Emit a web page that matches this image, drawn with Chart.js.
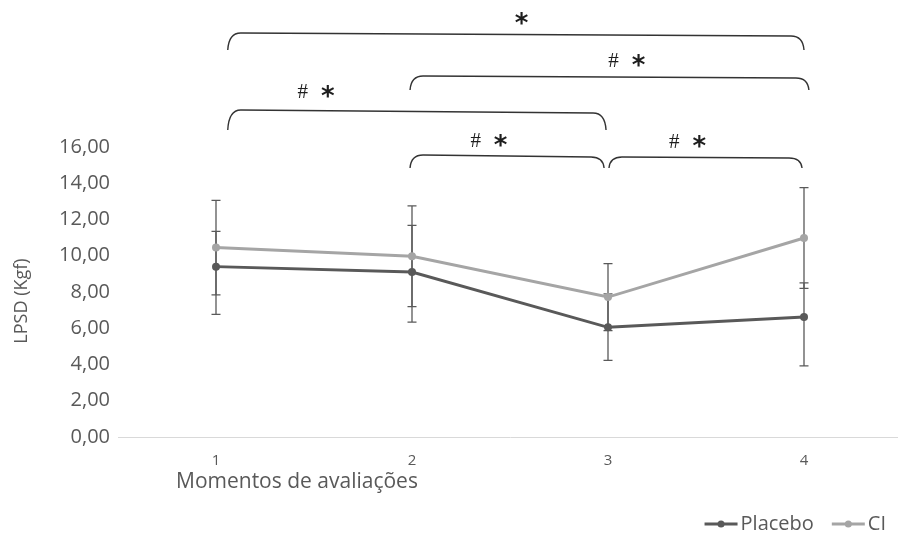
<!DOCTYPE html>
<html>
<head>
<meta charset="utf-8">
<script src="https://cdn.jsdelivr.net/npm/chart.js@4.4.1/dist/chart.umd.min.js"></script>
<style>
  html, body { margin: 0; padding: 0; background: #ffffff; overflow: hidden; }
  #wrap { width: 898px; height: 539px; overflow: hidden; }
  canvas { display: block; }
</style>
</head>
<body>
<div id="wrap"><canvas id="chart" width="906" height="539"></canvas></div>
<script>
// Evaluation moments
const categories = ['1', '2', '3', '4'];

// Mean LPSD (Kgf) per moment
const placebo = [9.40, 9.10, 6.05, 6.62];
const ci = [10.45, 9.97, 7.72, 10.98];

// Error bar extents (above / below the mean)
const placeboErrPlus = [1.95, 2.58, 1.85, 1.88];
const placeboErrMinus = [2.63, 2.76, 1.82, 2.70];
const ciErrPlus = [2.61, 2.78, 1.85, 2.78];
const ciErrMinus = [2.61, 2.78, 1.85, 2.78];

// Y axis range
const yMin = 0;
const yMax = 16;
const yStep = 2;

// Significant comparisons between moments
const comparisons = [
  { from: '1', to: '4', marks: ['*'] },
  { from: '2', to: '4', marks: ['#', '*'] },
  { from: '1', to: '3', marks: ['#', '*'] },
  { from: '2', to: '3', marks: ['#', '*'] },
  { from: '3', to: '4', marks: ['#', '*'] }
];

// Bracket geometry: x nudges in category units, y in canvas pixels
const bracketLayout = [
  { dx1: 0.06, dx2: 0.00, line: [33, 36], tip: 50, text: 18, at: 0.51 },
  { dx1: -0.01, dx2: 0.025, line: [76, 78], tip: 90, text: 60, at: 0.54 },
  { dx1: 0.06, dx2: -0.01, line: [110, 113], tip: 130, text: 91, at: 0.23 },
  { dx1: -0.01, dx2: -0.02, line: [155, 157], tip: 168, text: 140, at: 0.40 },
  { dx1: 0.005, dx2: -0.01, line: [157, 158], tip: 168, text: 141, at: 0.40 }
];

const TEXT = '#595959';
const DARK = '#595959';
const LIGHT = '#a5a5a5';
const FONT = "'Open Sans', 'Noto Sans', sans-serif";

function fmt(v) { return v.toFixed(2).replace('.', ','); }

// Vertical error bars with caps, drawn under the series lines
const errorBars = {
  id: 'errorBars',
  beforeDatasetsDraw(chart) {
    const ctx = chart.ctx;
    const y = chart.scales.y;
    ctx.save();
    ctx.strokeStyle = '#595959';
    ctx.lineWidth = 1.3;
    chart.data.datasets.forEach((ds, i) => {
      const meta = chart.getDatasetMeta(i);
      meta.data.forEach((pt, j) => {
        const v = ds.data[j];
        const top = y.getPixelForValue(v + ds.errPlus[j]);
        const bot = y.getPixelForValue(v - ds.errMinus[j]);
        const x = pt.x;
        ctx.beginPath();
        ctx.moveTo(x, top); ctx.lineTo(x, bot);
        ctx.moveTo(x - 4.5, top); ctx.lineTo(x + 4.5, top);
        ctx.moveTo(x - 4.5, bot); ctx.lineTo(x + 4.5, bot);
        ctx.stroke();
      });
    });
    ctx.restore();
  }
};

function drawGlyph(ctx, ch, font, cx, cy) {
  ctx.font = font;
  const m = ctx.measureText(ch);
  const asc = m.actualBoundingBoxAscent, desc = m.actualBoundingBoxDescent;
  ctx.textAlign = 'center';
  ctx.textBaseline = 'alphabetic';
  ctx.fillText(ch, cx, cy + (asc - desc) / 2);
}

// Comparison brackets with their significance marks
const brackets = {
  id: 'brackets',
  afterDraw(chart) {
    const ctx = chart.ctx;
    const x = chart.scales.x;
    ctx.save();
    ctx.strokeStyle = '#333333';
    ctx.fillStyle = '#1e1e1e';
    ctx.lineWidth = 1.4;
    comparisons.forEach((c, k) => {
      const L = bracketLayout[k];
      const x1 = x.getPixelForValue(categories.indexOf(c.from) + L.dx1);
      const x2 = x.getPixelForValue(categories.indexOf(c.to) + L.dx2);
      const r = 13;
      ctx.beginPath();
      ctx.moveTo(x1, L.tip);
      ctx.quadraticCurveTo(x1 + 1, L.line[0], x1 + r, L.line[0]);
      ctx.lineTo(x2 - r, L.line[1]);
      ctx.quadraticCurveTo(x2 - 1, L.line[1], x2, L.tip);
      ctx.stroke();
      const cx = x1 + (x2 - x1) * L.at;
      if (c.marks.length === 1) {
        drawGlyph(ctx, c.marks[0], "bold 26px 'DejaVu Sans'", cx, L.text);
      } else {
        drawGlyph(ctx, c.marks[0], "21px 'Liberation Serif'", cx - 12, L.text);
        drawGlyph(ctx, c.marks[1], "bold 26px 'DejaVu Sans'", cx + 13, L.text);
      }
    });
    ctx.restore();
  }
};

// Axis titles and the series key
const annotations = {
  id: 'annotations',
  afterDraw(chart) {
    const ctx = chart.ctx;
    const area = chart.chartArea;
    ctx.save();
    ctx.fillStyle = TEXT;
    ctx.textBaseline = 'middle';

    // y axis title
    ctx.save();
    ctx.translate(22, area.top + (area.bottom - area.top) / 2 + 9);
    ctx.rotate(-Math.PI / 2);
    ctx.textAlign = 'center';
    ctx.font = '18px ' + FONT;
    ctx.fillText('LPSD (Kgf)', 0, 0);
    ctx.restore();

    // x axis title
    ctx.textAlign = 'left';
    ctx.font = '21px ' + FONT;
    ctx.fillText('Momentos de avaliações', area.left + 58, 482);

    // series key
    ctx.font = '20px ' + FONT;
    const items = chart.data.datasets.map(ds => ({ label: ds.label, color: ds.borderColor }));
    const sym = 33, gap = 3, spacing = 18;
    let total = 0;
    items.forEach((it, i) => { it.w = ctx.measureText(it.label).width; total += sym + gap + it.w + (i ? spacing : 0); });
    let xx = 886 - total;
    const yy = 524;
    items.forEach((it, i) => {
      if (i) xx += spacing;
      ctx.strokeStyle = it.color;
      ctx.lineWidth = 3;
      ctx.beginPath(); ctx.moveTo(xx, yy); ctx.lineTo(xx + sym, yy); ctx.stroke();
      ctx.fillStyle = it.color;
      ctx.beginPath(); ctx.arc(xx + sym / 2, yy, 3.5, 0, Math.PI * 2); ctx.fill();
      ctx.fillStyle = TEXT;
      ctx.fillText(it.label, xx + sym + gap, yy);
      xx += sym + gap + it.w;
    });
    ctx.restore();
  }
};

new Chart(document.getElementById('chart'), {
  type: 'line',
  data: {
    labels: categories,
    datasets: [
      {
        label: 'Placebo', data: placebo, errPlus: placeboErrPlus, errMinus: placeboErrMinus,
        borderColor: DARK, backgroundColor: DARK, borderWidth: 3,
        pointRadius: 4, pointBackgroundColor: DARK, pointBorderWidth: 0,
        tension: 0, fill: false
      },
      {
        label: 'CI', data: ci, errPlus: ciErrPlus, errMinus: ciErrMinus,
        borderColor: LIGHT, backgroundColor: LIGHT, borderWidth: 3,
        pointRadius: 4, pointBackgroundColor: LIGHT, pointBorderWidth: 0,
        tension: 0, fill: false
      }
    ]
  },
  options: {
    responsive: false,
    animation: false,
    devicePixelRatio: 1,
    layout: { padding: { top: 147, right: 0, bottom: 72, left: 0 } },
    plugins: { legend: { display: false }, tooltip: { enabled: false } },
    scales: {
      x: {
        offset: true,
        grid: { display: false, drawTicks: false },
        border: { display: true, color: '#d9d9d9', width: 1 },
        ticks: { color: TEXT, font: { family: FONT, size: 15 }, padding: 15 },
        afterFit(s) { s.height = 30; }
      },
      y: {
        min: yMin, max: yMax,
        grid: { display: false, drawTicks: false },
        border: { display: false },
        ticks: { stepSize: yStep, color: TEXT, font: { family: FONT, size: 20 }, padding: 8, callback: v => fmt(v) },
        afterFit(s) { s.width = 118; }
      }
    }
  },
  plugins: [errorBars, brackets, annotations]
});
</script>
</body>
</html>
